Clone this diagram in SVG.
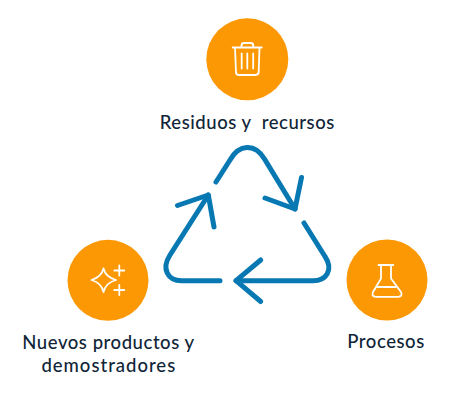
<svg xmlns="http://www.w3.org/2000/svg" width="460" height="401" viewBox="0 0 460 401">
<style>
.bg{fill:#ffffff}
.disc{fill:#fb9804}
.ico{fill:none;stroke:#ffffff;stroke-width:1.8;stroke-linecap:round;stroke-linejoin:round}
.cx{fill:none;stroke:#0878b3;stroke-width:5;stroke-linecap:round;stroke-linejoin:round}
.lb{font-family:"Lato","Liberation Sans",sans-serif;font-size:18.5px;font-weight:500;letter-spacing:.55px;fill:#0f2537;text-anchor:middle;white-space:pre}
</style>
<rect class="bg" width="460" height="401"/>
<g id="connectors">
<path class="cx" d="M216 182L230 160C239 144 255 143 264.500 159L295 209"/>
<path class="cx" d="M265 198L295 209L301.500 177.500"/>
<path class="cx" d="M304 223L325 256.500C334 270 326 280.700 313 280.700L236 280.700"/>
<path class="cx" d="M260.700 260L236 280.700L260.700 301.500"/>
<path class="cx" d="M220 280.700L181.500 280.700C168 280.700 161 269 170 255L208.300 195"/>
<path class="cx" d="M177.500 205.500L208.300 195L214 227"/>
</g>
<g id="node-residuos">
<circle class="disc" cx="247.300" cy="59.300" r="41"/>
<path class="ico" d="M232.700 47.500H261.700M235 47.500L236 72Q236 75 239 75H255.500Q258.500 75 258.700 72L259.500 47.500M241.500 47.500V45.500Q241.500 43 244 43H250.500Q253.300 43 253.300 45.500V47.500M241.700 53.500V68.500M247.300 53.500V68.500M253.200 53.500V68.500"/>
<text class="lb" x="247.300" y="129">Residuos y  recursos</text>
</g>
<g id="node-procesos">
<circle class="disc" cx="387" cy="280" r="40.500"/>
<path class="ico" d="M378.500 265H393.300M381 265V278.500L373 292Q371 296.800 376 296.800H398Q403 296.800 401 292L391 278.500V265M376.500 287H396"/>
<text class="lb" x="386" y="348.300">Procesos</text>
</g>
<g id="node-nuevos">
<circle class="disc" cx="108" cy="280.300" r="40.500"/>
<path class="ico" d="M103.500 268.500Q105.500 277 116 280Q105.500 283 103.500 292Q101.500 283 91.500 280Q101.500 277 103.500 268.500ZM119.300 265.500V275.500M114.300 270.500H124.300M119.300 285V295M114.300 290H124.300"/>
<text class="lb" x="108.500" y="349.300">Nuevos productos y</text>
<text class="lb" x="108.800" y="371.700" style="letter-spacing:1px">demostradores</text>
</g>
</svg>
